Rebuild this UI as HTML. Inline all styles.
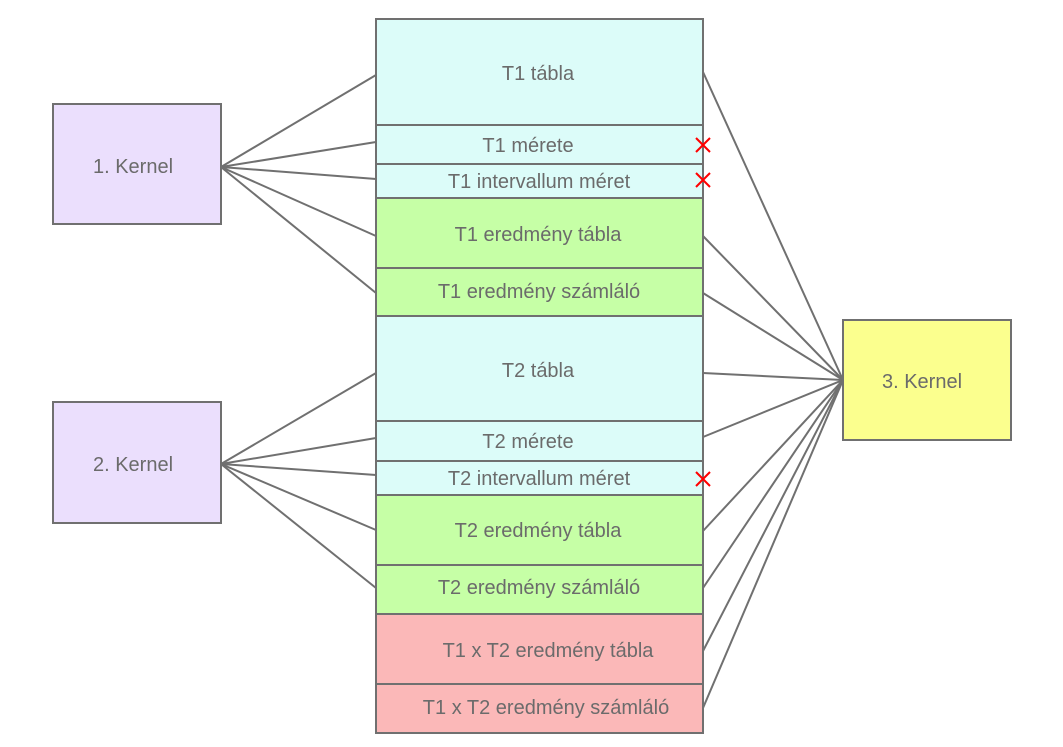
<!DOCTYPE html>
<html><head><meta charset="utf-8"><style>
html,body{margin:0;padding:0;background:#fff;}
svg text{font-family:"Liberation Sans","DejaVu Sans",sans-serif;font-size:20px;fill:#6b6b6b;text-anchor:middle;dominant-baseline:central;}
</style></head><body>
<svg width="1063" height="742" viewBox="0 0 1063 742" xmlns="http://www.w3.org/2000/svg">
<g stroke="#707070" stroke-width="2" fill="none">
<!-- kernel1 lines -->
<line x1="221" y1="167" x2="376" y2="75"/>
<line x1="221" y1="167" x2="376" y2="142"/>
<line x1="221" y1="167" x2="376" y2="179"/>
<line x1="221" y1="167" x2="376" y2="236"/>
<line x1="221" y1="167" x2="376" y2="293"/>
<!-- kernel2 lines -->
<line x1="221" y1="464" x2="376" y2="373"/>
<line x1="221" y1="464" x2="376" y2="438"/>
<line x1="221" y1="464" x2="376" y2="475"/>
<line x1="221" y1="464" x2="376" y2="530"/>
<line x1="221" y1="464" x2="376" y2="588"/>
<!-- kernel3 lines -->
<line x1="843" y1="380" x2="703" y2="72"/>
<line x1="843" y1="380" x2="703" y2="236"/>
<line x1="843" y1="380" x2="703" y2="293"/>
<line x1="843" y1="380" x2="703" y2="373"/>
<line x1="843" y1="380" x2="703" y2="437"/>
<line x1="843" y1="380" x2="703" y2="531"/>
<line x1="843" y1="380" x2="703" y2="588"/>
<line x1="843" y1="380" x2="703" y2="651"/>
<line x1="843" y1="380" x2="703" y2="708"/>
</g>
<g stroke="#707070" stroke-width="2">
<rect x="53" y="104" width="168" height="120" fill="#ebdffd"/>
<rect x="53" y="402" width="168" height="121" fill="#ebdffd"/>
<rect x="843" y="320" width="168" height="120" fill="#fbff8e"/>
<rect x="376" y="19" width="327" height="106" fill="#dcfcf9"/>
<rect x="376" y="125" width="327" height="39" fill="#dcfcf9"/>
<rect x="376" y="164" width="327" height="34" fill="#dcfcf9"/>
<rect x="376" y="198" width="327" height="70" fill="#c6ffa6"/>
<rect x="376" y="268" width="327" height="48" fill="#c6ffa6"/>
<rect x="376" y="316" width="327" height="105" fill="#dcfcf9"/>
<rect x="376" y="421" width="327" height="40" fill="#dcfcf9"/>
<rect x="376" y="461" width="327" height="34" fill="#dcfcf9"/>
<rect x="376" y="495" width="327" height="70" fill="#c6ffa6"/>
<rect x="376" y="565" width="327" height="49" fill="#c6ffa6"/>
<rect x="376" y="614" width="327" height="70" fill="#fbb8b8"/>
<rect x="376" y="684" width="327" height="49" fill="#fbb8b8"/>
</g>
<g stroke="#ff0000" stroke-width="2">
<line x1="696" y1="138" x2="710" y2="152"/><line x1="710" y1="138" x2="696" y2="152"/>
<line x1="696" y1="173" x2="710" y2="187"/><line x1="710" y1="173" x2="696" y2="187"/>
<line x1="696" y1="472" x2="710" y2="486"/><line x1="710" y1="472" x2="696" y2="486"/>
</g>
<text x="133" y="167">1. Kernel</text>
<text x="133" y="465">2. Kernel</text>
<text x="922" y="382">3. Kernel</text>
<text x="538" y="74">T1 tábla</text>
<text x="528" y="146">T1 mérete</text>
<text x="539" y="182">T1 intervallum méret</text>
<text x="538" y="235">T1 eredmény tábla</text>
<text x="539" y="292">T1 eredmény számláló</text>
<text x="538" y="371">T2 tábla</text>
<text x="528" y="442">T2 mérete</text>
<text x="539" y="479">T2 intervallum méret</text>
<text x="538" y="531">T2 eredmény tábla</text>
<text x="539" y="588">T2 eredmény számláló</text>
<text x="548" y="651">T1 x T2 eredmény tábla</text>
<text x="546" y="708">T1 x T2 eredmény számláló</text>
</svg>
</body></html>
